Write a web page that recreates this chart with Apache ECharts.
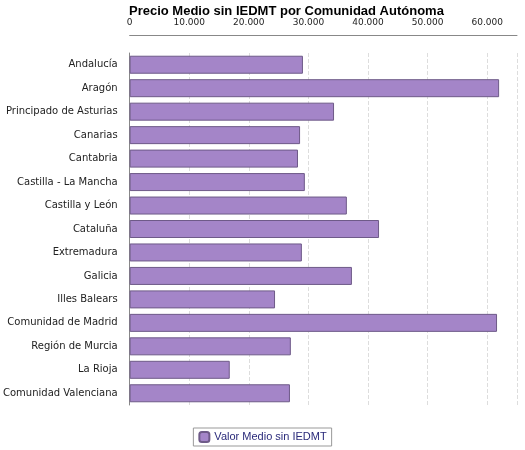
<!DOCTYPE html><html><head><meta charset="utf-8"><script src="https://cdn.jsdelivr.net/npm/echarts@6/dist/echarts.min.js"></script></head><body style="margin:0"><div id="c" style="width:525px;height:450px"></div><script>
const categories=["Andalucía","Aragón","Principado de Asturias","Canarias","Cantabria","Castilla - La Mancha","Castilla y León","Cataluña","Extremadura","Galicia","Illes Balears","Comunidad de Madrid","Región de Murcia","La Rioja","Comunidad Valenciana"];
const values=[29080,62000,34300,28600,28250,29400,36450,41850,28900,37300,24400,61650,27050,16800,26900];
const seriesName="Valor Medio sin IEDMT";
const c=echarts.init(document.getElementById('c'));
c.setOption({animation:false,
title:{text:"Precio Medio sin IEDMT por Comunidad Autónoma",left:124,top:0,textStyle:{fontSize:13,fontWeight:'bold',color:'#000',fontFamily:'Liberation Sans'}},
grid:{left:129,right:8,top:53,height:352},
legend:{bottom:4,left:'center',itemWidth:10,itemHeight:10,borderColor:'#999',borderWidth:1,padding:[3,5],borderRadius:0,textStyle:{fontSize:11,color:'#2a2a7a',fontFamily:'Liberation Sans'}},
xAxis:{type:'value',position:'top',offset:18,min:0,max:65000,interval:10000,
axisLine:{show:true,lineStyle:{color:'#888'}},axisTick:{show:false},
axisLabel:{fontSize:9,color:'#222',fontFamily:'DejaVu Sans',formatter:v=>v>60000?'':v.toLocaleString('de-DE')},
splitLine:{lineStyle:{type:'dashed',color:'#ddd'}}},
yAxis:{type:'category',data:categories,inverse:true,axisLine:{lineStyle:{color:'#888'}},axisTick:{show:false},
axisLabel:{fontSize:10,color:'#222',fontFamily:'DejaVu Sans',margin:12}},
series:[{name:seriesName,type:'bar',data:values,barWidth:18,itemStyle:{color:'#a485c8',borderColor:'#6e5a88',borderWidth:1}}]});
</script></body></html>
